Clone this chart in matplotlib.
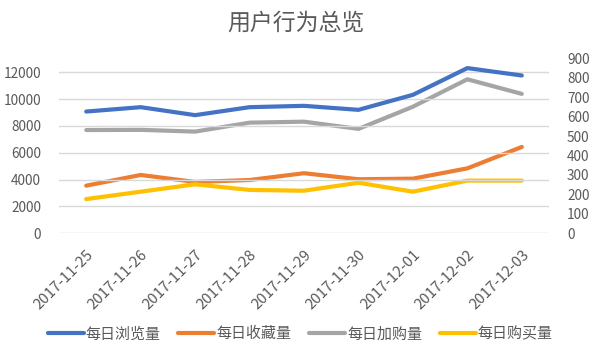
import matplotlib
matplotlib.use("Agg")
import matplotlib.pyplot as plt
from matplotlib.ticker import FixedLocator

plt.rcParams['font.family'] = ['Noto Sans CJK SC', 'DejaVu Sans']

dates = ["2017-11-25", "2017-11-26", "2017-11-27", "2017-11-28", "2017-11-29",
         "2017-11-30", "2017-12-01", "2017-12-02", "2017-12-03"]
pv = [9075, 9400, 8806, 9400, 9500, 9201, 10321, 12313, 11761]
fav = [245, 300, 264, 274, 309, 278, 281, 334, 444]
cart = [531, 532, 523, 569, 574, 537, 651, 792, 717]
buy = [176, 214, 252, 223, 219, 260, 214, 271, 271]

left_ticks = [0, 2000, 4000, 6000, 8000, 10000, 12000]
right_ticks = [0, 100, 200, 300, 400, 500, 600, 700, 800, 900]

text_color = "#595959"
grid_color = "#D9D9D9"

fig = plt.figure(figsize=(5.92, 3.48), dpi=100)
ax = fig.add_axes([0.0997, 0.3296, 0.8277, 0.5029])
ax2 = ax.twinx()

x = list(range(len(dates)))
lw = 3.0
l1, = ax.plot(x, pv, color="#4472C4", lw=lw, solid_capstyle="round", label="每日浏览量", zorder=3)
l2, = ax2.plot(x, fav, color="#ED7D31", lw=lw, solid_capstyle="round", label="每日收藏量")
l3, = ax2.plot(x, cart, color="#A5A5A5", lw=lw, solid_capstyle="round", label="每日加购量")
l4, = ax2.plot(x, buy, color="#FFC000", lw=lw, solid_capstyle="round", label="每日购买量")

ax.set_xlim(-0.5, len(dates) - 0.5)
ax.set_ylim(0, 12000 * 175 / 161)
ax2.set_ylim(0, 900)

ax.yaxis.set_major_locator(FixedLocator(left_ticks))
ax2.yaxis.set_major_locator(FixedLocator(right_ticks))
ax.set_yticklabels([str(v) for v in left_ticks])
ax2.set_yticklabels([str(v) for v in right_ticks])

ax.set_xticks(x)
ax.set_xticklabels(dates, rotation=45, ha="right", rotation_mode="anchor")

for a in (ax, ax2):
    for s in a.spines.values():
        s.set_visible(False)
    a.tick_params(length=0, labelsize=9.8, labelcolor=text_color)
ax.tick_params(axis="y", pad=13)
ax2.tick_params(axis="y", pad=13)
ax.tick_params(axis="x", pad=10, labelsize=10.8)

ax.grid(axis="y", color=grid_color, lw=1.0)
ax.set_axisbelow(True)
ax.set_zorder(ax2.get_zorder() + 1)
ax.patch.set_visible(False)

fig.text(0.5, 0.934, "用户行为总览", ha="center", va="center", fontsize=16.5, color=text_color)

fig.legend(handles=[l1, l2, l3, l4], loc="center", bbox_to_anchor=(0.507, 0.04),
           ncol=4, frameon=False, fontsize=10.8, handlelength=2.4,
           handletextpad=0.12, columnspacing=1.2, labelcolor=text_color)

fig.savefig("out.png", dpi=100)
